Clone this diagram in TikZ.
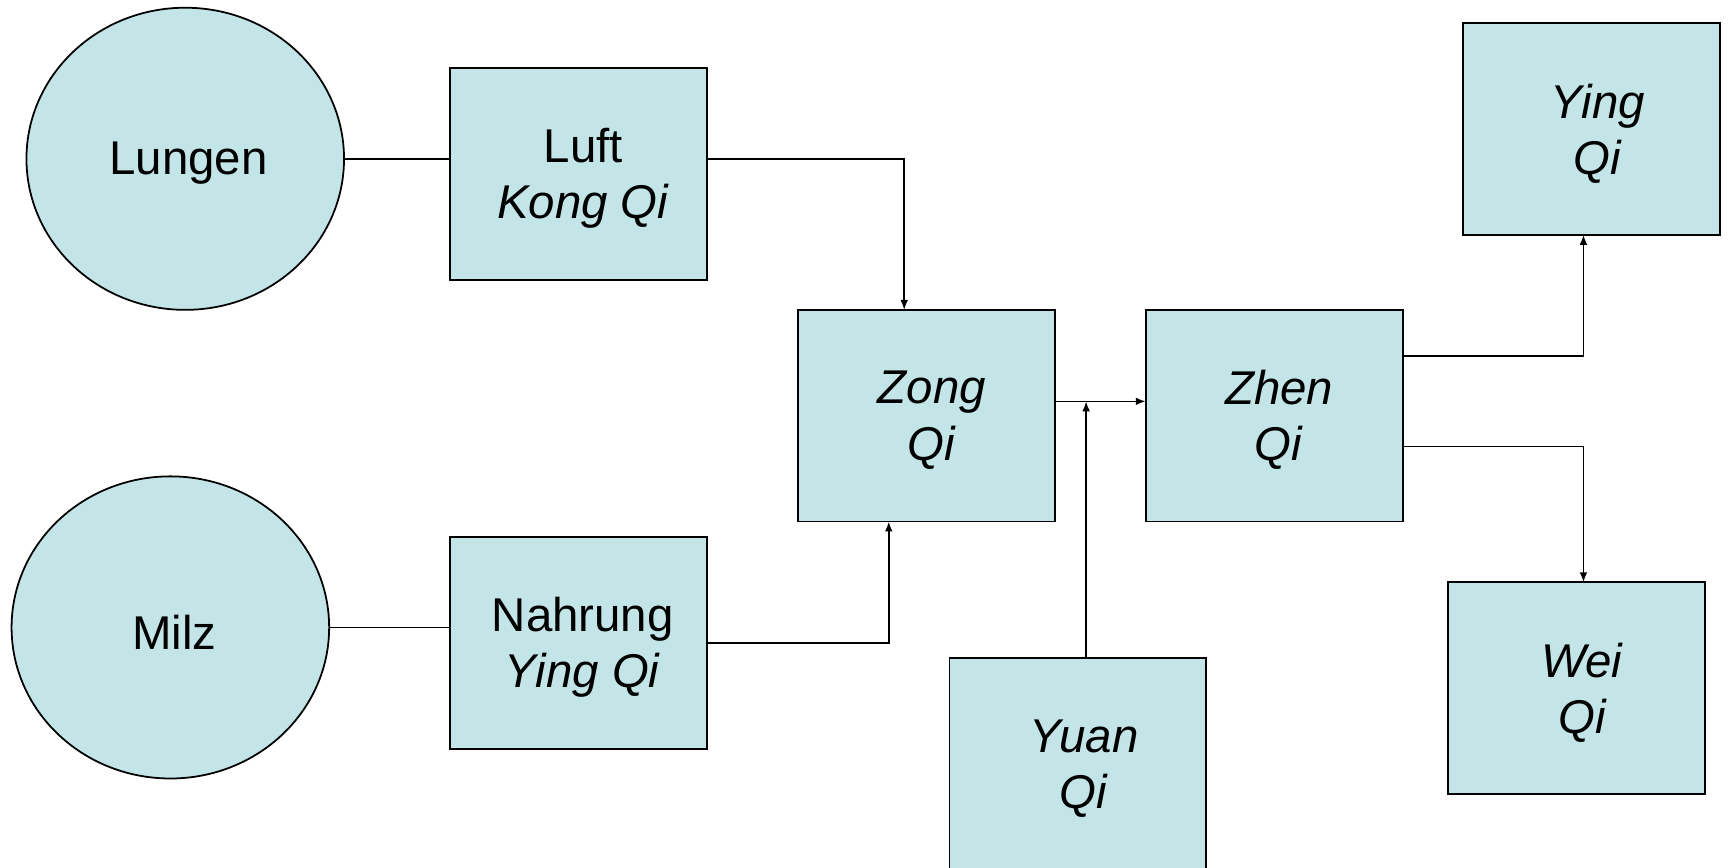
\documentclass[tikz,border=0pt]{standalone}
\usepackage{fontspec}
\setmainfont{Liberation Sans}
\usetikzlibrary{shapes.geometric,arrows.meta}
\definecolor{qifill}{RGB}{196,229,231}
\begin{document}
\begin{tikzpicture}[x=0.5pt,y=-0.5pt,
  every node/.style={inner sep=0pt, outer sep=0pt},
  lbl/.style={font=\fontsize{21.5}{25.5}\selectfont, align=center},
  qibox/.style={draw=black, line width=0.8pt, fill=qifill, rectangle, minimum width=116.5pt, minimum height=96pt},
  organ/.style={draw=black, line width=0.8pt, fill=qifill, ellipse, minimum width=144pt, minimum height=137pt},
  link/.style={draw=black, line width=0.7pt},
  arr/.style={link, -{Latex[length=4.5pt,width=3.5pt]}}]
\useasboundingbox (0,0) rectangle (1568,787);
\node[organ] (lung) at (168,144) {};
\node[organ] (milz) at (154.5,569) {};
\node[qibox] (luft) at (524.5,158) {};
\node[qibox] (nahr) at (524.5,583) {};
\node[qibox] (zong) at (840.5,377) {};
\node[qibox] (zhen) at (1155.5,377) {};
\node[qibox] (yuan) at (977.5,693) {};
\node[qibox] (ying) at (1443.5,117) {};
\node[qibox] (wei) at (1429.5,624) {};
\node[lbl] (tlung) at ([shift={(1.5pt,-2pt)}]lung) {Lungen};
\node[lbl] (tmilz) at ([shift={(1.75pt,-2pt)}]milz) {Milz};
\node[lbl] (tluft) at ([shift={(2.25pt,-2pt)}]luft) {Luft\\\textit{Kong Qi}};
\node[lbl] (tnahr) at ([shift={(2pt,-2pt)}]nahr) {Nahrung\\\textit{Ying Qi}};
\node[lbl] (tzong) at ([shift={(2.25pt,-2pt)}]zong) {\textit{Zong}\\\textit{Qi}};
\node[lbl] (tzhen) at ([shift={(2.25pt,-2pt)}]zhen) {\textit{Zhen}\\\textit{Qi}};
\node[lbl] (tyuan) at ([shift={(2.75pt,-2pt)}]yuan) {\textit{Yuan}\\\textit{Qi}};
\node[lbl] (tying) at ([shift={(2.75pt,-2pt)}]ying) {\textit{Ying}\\\textit{Qi}};
\node[lbl] (twei) at ([shift={(2.75pt,-2pt)}]wei) {\textit{Wei}\\\textit{Qi}};
\coordinate (j) at (985,364);
\draw[link] (lung.east) -- (lung.east -| luft.west);
\draw[link] (milz.east) -- (milz.east -| nahr.west);
\draw[arr] (luft.east |- lung.east) -| ([xshift=-10.25pt]zong.north);
\draw[arr] (nahr.east) -| ([xshift=-17.25pt]zong.south);
\draw[arr] ([yshift=6.5pt]zong.east) -- ([yshift=6.5pt]zhen.west);
\draw[arr] ([xshift=3.75pt]yuan.north) -- (j);
\draw[arr] ([yshift=27pt]zhen.east) -| ([xshift=-3.75pt]ying.south);
\draw[arr] ([yshift=-14pt]zhen.east) -| ([xshift=3.25pt]wei.north);
\end{tikzpicture}
\end{document}
